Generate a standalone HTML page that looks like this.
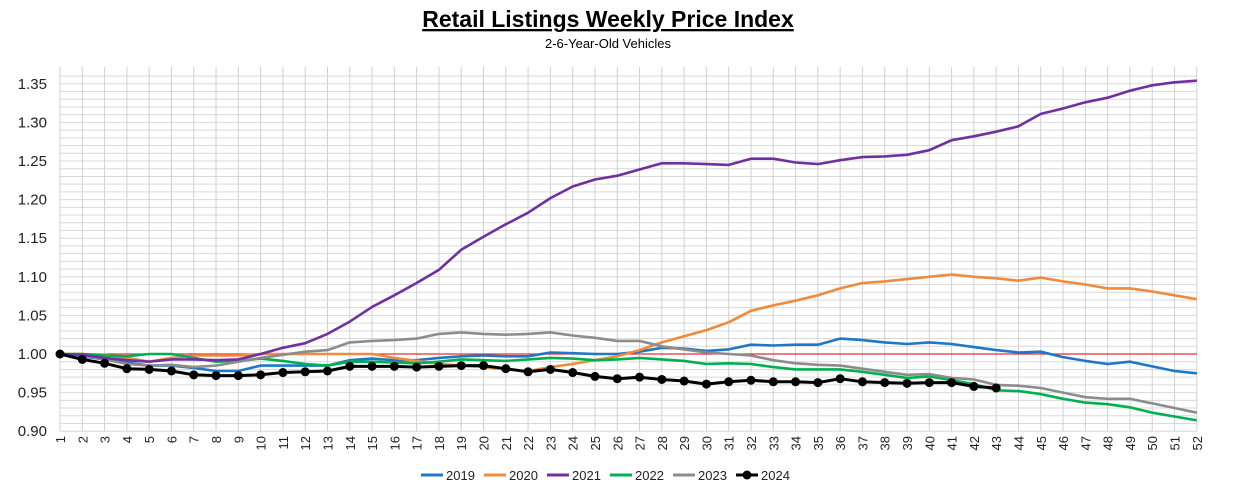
<!DOCTYPE html>
<html><head><meta charset="utf-8"><style>
body{margin:0;background:#fff;width:1259px;height:498px;overflow:hidden;font-family:"Liberation Sans",sans-serif}
</style></head><body>
<svg id="s" width="1259" height="498" xmlns="http://www.w3.org/2000/svg" font-family="Liberation Sans, sans-serif">
<text x="608" y="27" text-anchor="middle" font-size="23" font-weight="bold" text-decoration="underline">Retail Listings Weekly Price Index</text>
<text x="608" y="48" text-anchor="middle" font-size="13">2-6-Year-Old Vehicles</text>
</svg>
<script>
(function(){
const s=document.getElementById('s'),NS='http://www.w3.org/2000/svg';
function el(t,a,txt){const e=document.createElementNS(NS,t);for(const k in a)e.setAttribute(k,a[k]);if(txt!==undefined)e.textContent=txt;s.appendChild(e);return e;}
const X=w=>60+(w-1)*22.29, Y=v=>354-(v-1)*772;
const ptop=67,bot=431;
for(let i=0;i<=46;i++){const v=0.90+i*0.01;const y=Y(v);if(y<ptop-1)continue;el('line',{x1:60,x2:1197,y1:y,y2:y,stroke:'#d9d9d9','stroke-width':1});}
for(let w=1;w<=52;w++){el('line',{x1:X(w),x2:X(w),y1:ptop,y2:bot,stroke:'#d0d0d0','stroke-width':1});
el('text',{x:0,y:0,'font-size':13,fill:'#222','text-anchor':'end',transform:`translate(${X(w)+5},${bot+5}) rotate(-90)`},String(w));}
for(let i=0;i<=9;i++){const v=0.90+i*0.05;el('text',{x:47,y:Y(v)+5,'font-size':15,fill:'#222','text-anchor':'end'},v.toFixed(2));}
el('line',{x1:60,x2:1197,y1:Y(1),y2:Y(1),stroke:'#e03030','stroke-width':1.2});
const D={
'#1f77c8':[1,.997,.993,.989,.985,.985,.982,.978,.978,.985,.985,.985,.985,.992,.994,.992,.992,.995,.997,.998,.997,.997,1.002,1.001,1,1,1.003,1.008,1.007,1.004,1.006,1.012,1.011,1.012,1.012,1.02,1.018,1.015,1.013,1.015,1.013,1.009,1.005,1.002,1.003,.996,.991,.987,.99,.984,.978,.975],
'#f08a3c':[1,1,.999,.995,.99,.995,.998,.998,.998,1,1,1,1,1,1,.995,.991,.987,.985,.983,.98,.978,.983,.987,.992,.997,1.005,1.015,1.023,1.031,1.041,1.056,1.063,1.069,1.076,1.085,1.092,1.094,1.097,1.1,1.103,1.1,1.098,1.095,1.099,1.094,1.09,1.085,1.085,1.081,1.076,1.071],
'#00b050':[1,1,.998,.997,1,1,.995,.99,.991,.994,.991,.987,.985,.99,.99,.989,.988,.99,.993,.992,.991,.993,.995,.994,.992,.993,.995,.993,.991,.987,.988,.987,.983,.98,.98,.98,.977,.973,.969,.971,.966,.961,.953,.952,.948,.942,.937,.935,.931,.924,.919,.914],
'#8c8c8c':[1,.998,.993,.987,.985,.986,.983,.985,.99,.995,.999,1.003,1.005,1.015,1.017,1.018,1.02,1.026,1.028,1.026,1.025,1.026,1.028,1.024,1.021,1.017,1.017,1.01,1.006,1.002,1,.998,.992,.988,.986,.985,.981,.977,.973,.974,.969,.967,.96,.959,.956,.95,.944,.942,.942,.936,.93,.924],
'#7030a0':[1,.999,.995,.992,.99,.993,.993,.992,.993,1,1.008,1.014,1.026,1.042,1.061,1.076,1.092,1.109,1.135,1.152,1.168,1.183,1.202,1.217,1.226,1.231,1.239,1.247,1.247,1.246,1.245,1.253,1.253,1.248,1.246,1.251,1.255,1.256,1.258,1.264,1.277,1.282,1.288,1.295,1.311,1.318,1.326,1.332,1.341,1.348,1.352,1.354],
'#000':[1,.993,.988,.981,.98,.978,.973,.972,.972,.973,.976,.977,.978,.984,.984,.984,.983,.984,.985,.985,.981,.977,.98,.976,.971,.968,.97,.967,.965,.961,.964,.966,.964,.964,.963,.968,.964,.963,.962,.963,.963,.958,.956]};
for(const c in D){const p=D[c].map((v,i)=>X(i+1).toFixed(1)+','+Y(v).toFixed(1)).join(' ');
el('polyline',{points:p,fill:'none',stroke:c,'stroke-width':c=='#000'?3:2.6,'stroke-linejoin':'round'});
if(c=='#000')D[c].forEach((v,i)=>el('circle',{cx:X(i+1),cy:Y(v),r:4.5,fill:'#000'}));}
const L=[['#1f77c8','2019'],['#f08a3c','2020'],['#7030a0','2021'],['#00b050','2022'],['#8c8c8c','2023'],['#000','2024']];
let lx=421;L.forEach(([c,n],i)=>{el('line',{x1:lx,x2:lx+22,y1:475,y2:475,stroke:c,'stroke-width':3});
if(i==5)el('circle',{cx:lx+11,cy:475,r:4.5,fill:'#000'});
el('text',{x:lx+25,y:480,'font-size':13,fill:'#222'},n);lx+=63;});
})();
</script>
</body></html>
